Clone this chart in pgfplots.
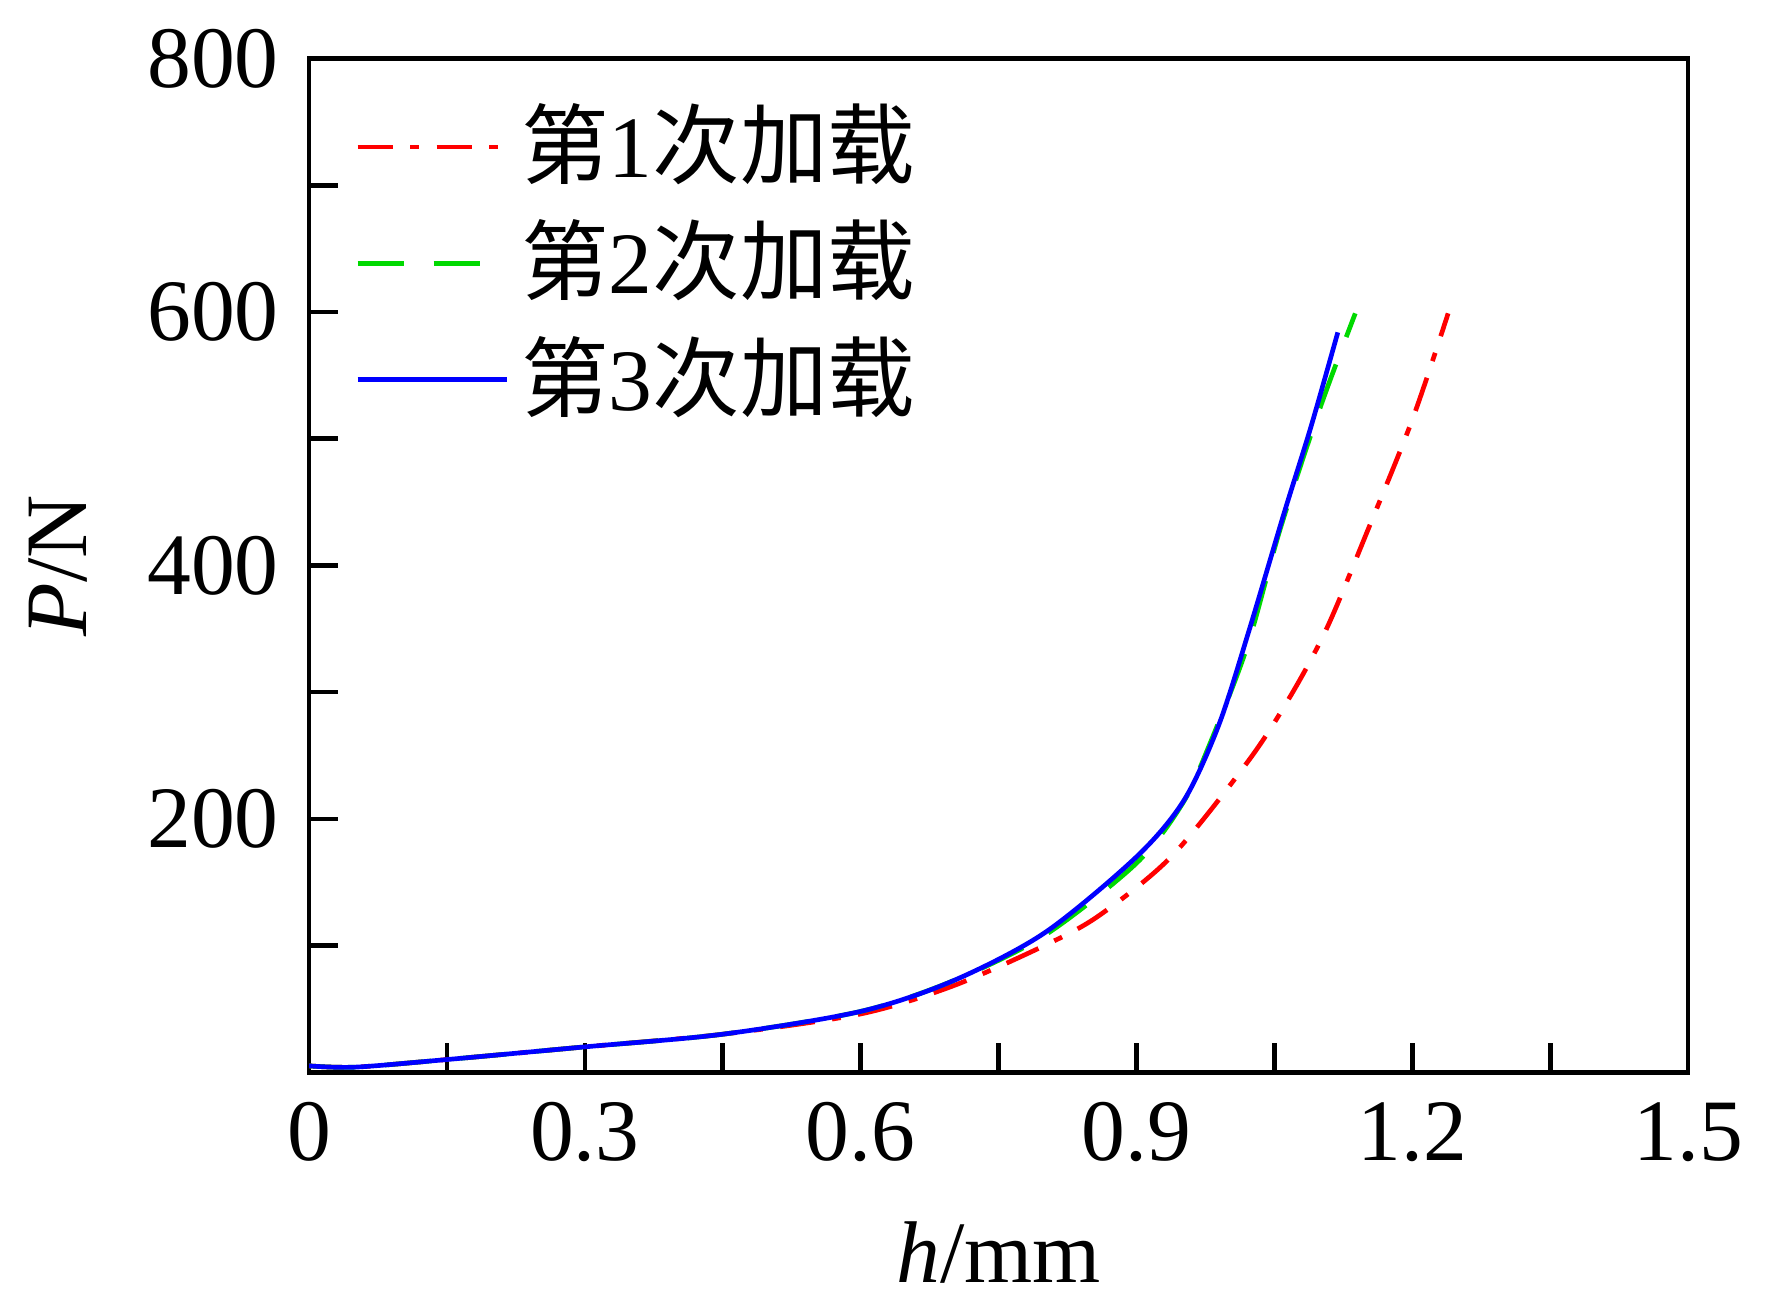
\documentclass[border=0pt]{standalone}
\usepackage{fontspec}
\setmainfont{Liberation Serif}
\newfontfamily\cjk{Noto Sans CJK SC}
\usepackage{pgfplots}
\pgfplotsset{compat=1.18}
\begin{document}
\fontsize{15}{17}\selectfont
\begin{tikzpicture}
\begin{axis}[
  width=8.3cm, height=6.1cm, scale only axis,
  xmin=0, xmax=1.5, ymin=0, ymax=800,
  xtick={0,0.3,0.6,0.9,1.2,1.5},
  xticklabels={0,0.3,0.6,0.9,1.2,1.5},
  minor xtick={0.15,0.45,0.75,1.05,1.35},
  ytick={200,400,600,800},
  minor ytick={100,300,500,700},
  xtick pos=bottom, ytick pos=left,
  tick align=inside, tick style={black, thick},
  major tick length=5pt, minor tick length=5pt,
  axis line style={thick},
  /pgf/number format/assume math mode=true,
  ticklabel style={font=\fontsize{15}{17}\selectfont},
  xlabel={\textit{h}/mm}, ylabel={\textit{P}/N},
  label style={font=\fontsize{15}{17}\selectfont},
  legend style={draw=none, fill=none, at={(0.02,0.98)}, anchor=north west, font=\fontsize{15}{17}\selectfont\cjk, row sep=1pt},
  legend cell align=left,
  legend image code/.code={\draw[#1] (0cm,0cm) -- (0.9cm,0cm);},
]
\addplot[red, thick, smooth, dash pattern=on 6pt off 3pt on 1.5pt off 3pt] coordinates {
(0,5)(0.05,4)(0.15,10)(0.3,20)(0.45,30)(0.6,46)(0.7,68)(0.8,100)(0.86,124)(0.939,171)(1.023,247)(1.07,300)(1.108,352)(1.15,425)(1.2,515)(1.239,599)};
\addlegendentry{第{\rmfamily 1}次加载}
\addplot[green!85!black, thick, smooth, dash pattern=on 8pt off 5pt] coordinates {
(0,5)(0.05,4)(0.15,10)(0.3,20)(0.45,30)(0.6,48)(0.7,72)(0.8,108)(0.9,165)(0.95,212)(0.978,256)(1.02,335)(1.056,428)(1.1,525)(1.138,599)};
\addlegendentry{第{\rmfamily 2}次加载}
\addplot[blue, thick, smooth] coordinates {
(0,5)(0.05,4)(0.15,10)(0.3,20)(0.45,30)(0.6,48)(0.7,72)(0.8,110)(0.9,170)(0.952,215)(0.99,275)(1.023,350)(1.06,440)(1.09,510)(1.119,584)};
\addlegendentry{第{\rmfamily 3}次加载}
\end{axis}
\end{tikzpicture}
\end{document}
